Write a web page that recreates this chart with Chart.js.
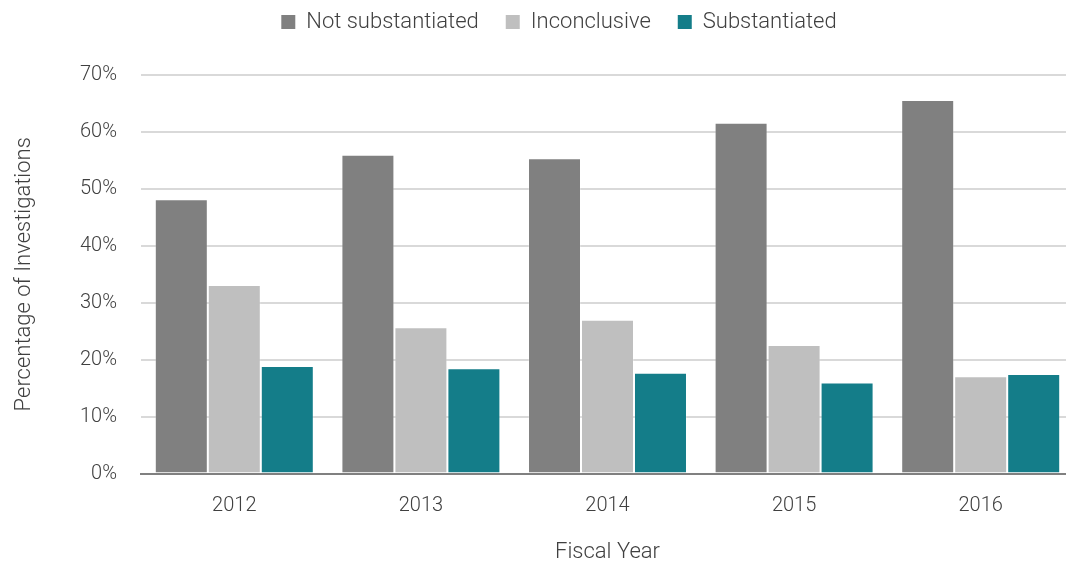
<!DOCTYPE html>
<html><head><meta charset="utf-8">
<script src="https://cdn.jsdelivr.net/npm/chart.js@4"></script>
<style>html,body{margin:0;padding:0;background:#fff}#wrap{width:1066px;height:564px}</style>
</head><body><div id="wrap"><canvas id="c" width="1066" height="564"></canvas></div>
<script>
const categories = ['2012','2013','2014','2015','2016'];
const notSubstantiated = [48.2, 56.0, 55.4, 61.6, 65.6];
const inconclusive = [33.1, 25.7, 27.0, 22.6, 17.1];
const substantiated = [18.9, 18.5, 17.7, 16.0, 17.5];
const yTicks = [0,10,20,30,40,50,60,70];

const FONT = "'Roboto', sans-serif";
const TXT = '#404040';
const EDGE = 'rgba(255,255,255,0.22)';
const layoutPlugin = {
  id:'layoutTweaks',
  beforeLayout(chart){
    const lg = chart.legend;
    if (lg && !lg._patched){
      const orig = lg.fit;
      lg.fit = function(){
        orig.call(this);
        this.height += 32;
        if (this.lineWidths && this.lineWidths.length) this.lineWidths[0] -= 52;
      };
      lg._patched = true;
    }
  },
  afterLayout(chart){
    // the original plot area runs past the right edge of the picture
    const xs = chart.scales.x;
    const w = 933;
    xs.right = xs.left + w; xs.width = w;
    xs.configure();
    chart.chartArea.right = xs.right;
    chart.chartArea.width = w;
  }
};
new Chart(document.getElementById('c'), {
  type: 'bar',
  data: {
    labels: categories,
    datasets: [
      {label:'Not substantiated', data: notSubstantiated, backgroundColor:'#808080', borderColor:EDGE, borderWidth:1},
      {label:'Inconclusive', data: inconclusive, backgroundColor:'#bfbfbf', borderColor:EDGE, borderWidth:1},
      {label:'Substantiated', data: substantiated, backgroundColor:'#147d89', borderColor:EDGE, borderWidth:1}
    ]
  },
  plugins:[layoutPlugin],
  options: {
    responsive:false, animation:false,
    layout:{padding:{left:0,right:0,top:-16,bottom:-2}},
    datasets:{bar:{categoryPercentage:0.852, barPercentage:1.0}},
    plugins:{
      legend:{position:'top', labels:{font:{family:FONT,size:22,weight:300}, color:TXT, boxWidth:14, boxHeight:14, padding:27,
        generateLabels:(chart)=>Chart.defaults.plugins.legend.labels.generateLabels(chart).map(l=>({...l, lineWidth:0}))}},
      tooltip:{enabled:false}
    },
    scales:{
      x:{grid:{display:false, drawTicks:false}, border:{color:'#808080', width:2},
         ticks:{font:{family:FONT,size:20,weight:300}, color:TXT, padding:20},
         title:{display:true, text:'Fiscal Year', font:{family:FONT,size:22,weight:300}, color:TXT, padding:{top:2,bottom:0}}},
      y:{min:0, max:70, afterBuildTicks:(ax)=>{ax.ticks=yTicks.map(v=>({value:v}));},
         afterFit:(s)=>{s.width=141;},
         grid:{color:'#d9d9d9', lineWidth:2, drawTicks:false}, border:{display:false},
         ticks:{font:{family:FONT,size:20,weight:300}, color:TXT, padding:24, callback:v=>v+'%'},
         title:{display:true, text:'Percentage of Investigations', font:{family:FONT,size:22,weight:300}, color:TXT, padding:{top:11,bottom:0}}}
    }
  }
});
</script></body></html>
